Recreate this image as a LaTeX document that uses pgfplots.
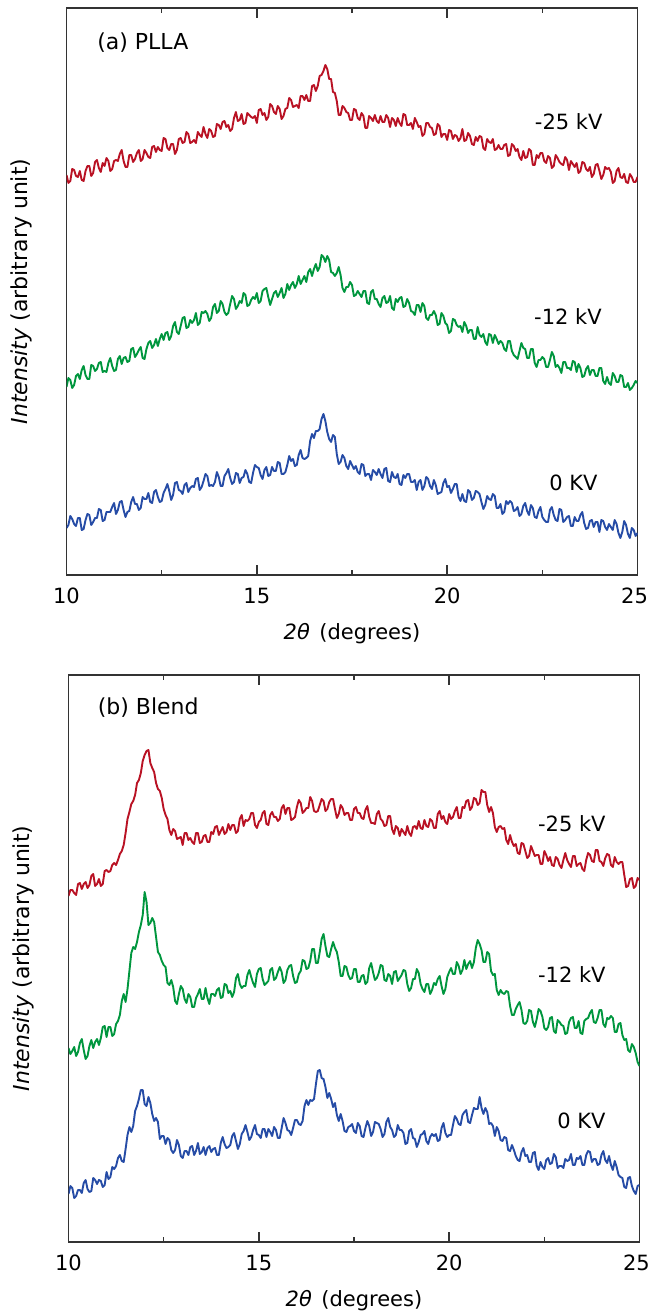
\documentclass[border=0pt]{standalone}
\usepackage{fontspec}
\setmainfont{DejaVu Sans}
\usepackage{pgfplots}
\pgfplotsset{compat=1.18}

\definecolor{redline}{RGB}{185,18,36}
\definecolor{greenline}{RGB}{0,150,62}
\definecolor{blueline}{RGB}{38,76,166}

\tikzset{annot/.style={inner sep=0pt, font=\fontsize{10.5}{12}\selectfont}}

% 1 px of the reference = 0.5pt; y values are pixels above the axis bottom
\pgfplotsset{xrdpanel/.style={
  width=285.5pt, height=283.5pt, scale only axis,
  xmin=10, xmax=25, ymin=0, ymax=567,
  xtick={10,15,20,25}, minor xtick={12.5,17.5,22.5},
  xticklabels={10,15,20,\hspace*{-3pt}25},
  ytick=\empty,
  tick align=inside,
  major tick length=5pt, minor tick length=2.5pt,
  axis line style={black!80, line width=0.7pt},
  every tick/.style={black!80, line width=0.7pt},
  tick label style={font=\fontsize{10.5}{12}\selectfont},
  /pgf/number format/assume math mode=true,
  xticklabel style={yshift=-3pt},
  xlabel={\textit{2θ}\hspace{0.45em}(degrees)},
  ylabel={\textit{Intensity} (arbitrary unit)},
  xlabel style={at={(axis description cs:0.5,-0.104)}, anchor=center,
    font=\fontsize{10.5}{12}\selectfont},
  ylabel style={at={(axis description cs:-0.079,0.5)}, anchor=center,
    font=\fontsize{11}{13}\selectfont},
  every axis plot/.append style={line width=0.95pt, line join=round},
}}

\begin{document}
\begin{tikzpicture}
% ---------------- (a) PLLA ----------------
\begin{axis}[xrdpanel]
  \addplot[redline] coordinates {
    (10.0,400)(10.05,392)(10.1,394)(10.15,406)(10.2,405)(10.25,399)(10.3,398)(10.35,404)(10.4,395)(10.45,394)
    (10.5,404)(10.55,409)(10.6,409)(10.65,399)(10.7,402)(10.75,413)(10.8,415)(10.85,407)(10.9,403)(10.95,412)
    (11.0,409)(11.05,417)(11.1,414)(11.15,404)(11.2,406)(11.25,414)(11.3,415)(11.35,414)(11.4,421)(11.45,425)
    (11.5,414)(11.55,408)(11.6,408)(11.65,420)(11.7,420)(11.75,413)(11.8,416)(11.85,422)(11.9,425)(11.95,414)
    (12.0,416)(12.05,425)(12.1,422)(12.15,418)(12.2,417)(12.25,428)(12.3,429)(12.35,423)(12.4,428)(12.45,425)
    (12.5,424)(12.55,437)(12.6,436)(12.65,427)(12.7,425)(12.75,431)(12.8,431)(12.85,421)(12.9,425)(12.95,436)
    (13.0,437)(13.05,432)(13.1,433)(13.15,443)(13.2,441)(13.25,432)(13.3,433)(13.35,435)(13.4,432)(13.45,443)
    (13.5,440)(13.55,438)(13.6,448)(13.65,441)(13.7,437)(13.75,446)(13.8,444)(13.85,438)(13.9,439)(13.95,451)
    (14.0,450)(14.05,446)(14.1,453)(14.15,454)(14.2,448)(14.25,450)(14.3,444)(14.35,446)(14.4,457)(14.45,463)
    (14.5,454)(14.55,455)(14.6,461)(14.65,451)(14.7,452)(14.75,462)(14.8,460)(14.85,458)(14.9,457)(14.95,459)
    (15.0,452)(15.05,465)(15.1,466)(15.15,460)(15.2,462)(15.25,455)(15.3,458)(15.35,471)(15.4,469)(15.45,463)
    (15.5,461)(15.55,469)(15.6,466)(15.65,456)(15.7,459)(15.75,466)(15.8,467)(15.85,477)(15.9,475)(15.95,468)
    (16.0,469)(16.05,470)(16.1,467)(16.15,479)(16.2,479)(16.25,475)(16.3,480)(16.35,474)(16.4,474)(16.45,489)
    (16.5,490)(16.55,484)(16.6,489)(16.65,499)(16.7,500)(16.75,504)(16.8,510)(16.85,506)(16.9,496)(16.95,496)
    (17.0,483)(17.05,482)(17.1,474)(17.15,460)(17.2,460)(17.25,469)(17.3,467)(17.35,463)(17.4,462)(17.45,455)
    (17.5,455)(17.55,466)(17.6,465)(17.65,457)(17.7,455)(17.75,462)(17.8,459)(17.85,447)(17.9,447)(17.95,459)
    (18.0,457)(18.05,454)(18.1,460)(18.15,454)(18.2,452)(18.25,459)(18.3,453)(18.35,453)(18.4,460)(18.45,457)
    (18.5,448)(18.55,457)(18.6,455)(18.65,449)(18.7,457)(18.75,452)(18.8,449)(18.85,461)(18.9,460)(18.95,450)
    (19.0,450)(19.05,452)(19.1,446)(19.15,457)(19.2,453)(19.25,448)(19.3,449)(19.35,439)(19.4,441)(19.45,452)
    (19.5,452)(19.55,448)(19.6,447)(19.65,440)(19.7,441)(19.75,451)(19.8,449)(19.85,438)(19.9,441)(19.95,441)
    (20.0,435)(20.05,445)(20.1,444)(20.15,436)(20.2,440)(20.25,439)(20.3,434)(20.35,437)(20.4,446)(20.45,434)
    (20.5,435)(20.55,442)(20.6,439)(20.65,431)(20.7,430)(20.75,438)(20.8,434)(20.85,439)(20.9,438)(20.95,427)
    (21.0,425)(21.05,436)(21.1,433)(21.15,432)(21.2,436)(21.25,425)(21.3,426)(21.35,430)(21.4,426)(21.45,426)
    (21.5,430)(21.55,431)(21.6,419)(21.65,420)(21.7,431)(21.75,429)(21.8,424)(21.85,426)(21.9,418)(21.95,415)
    (22.0,424)(22.05,417)(22.1,418)(22.15,426)(22.2,424)(22.25,410)(22.3,410)(22.35,420)(22.4,417)(22.45,422)
    (22.5,422)(22.55,414)(22.6,412)(22.65,419)(22.7,417)(22.75,407)(22.8,409)(22.85,420)(22.9,417)(22.95,413)
    (23.0,411)(23.05,410)(23.1,418)(23.15,415)(23.2,405)(23.25,414)(23.3,411)(23.35,408)(23.4,412)(23.45,402)
    (23.5,404)(23.55,413)(23.6,412)(23.65,406)(23.7,404)(23.75,408)(23.8,398)(23.85,401)(23.9,410)(23.95,411)
    (24.0,404)(24.05,396)(24.1,400)(24.15,408)(24.2,406)(24.25,407)(24.3,403)(24.35,392)(24.4,394)(24.45,404)
    (24.5,407)(24.55,398)(24.6,397)(24.65,401)(24.7,393)(24.75,392)(24.8,401)(24.85,398)(24.9,393)(24.95,393)
    (25.0,398)};
  \addplot[greenline] coordinates {
    (10.0,188)(10.05,197)(10.1,195)(10.15,187)(10.2,190)(10.25,199)(10.3,201)(10.35,196)(10.4,205)(10.45,209)
    (10.5,200)(10.55,196)(10.6,196)(10.65,210)(10.7,209)(10.75,204)(10.8,206)(10.85,212)(10.9,213)(10.95,203)
    (11.0,204)(11.05,203)(11.1,212)(11.15,217)(11.2,209)(11.25,204)(11.3,205)(11.35,216)(11.4,219)(11.45,211)
    (11.5,217)(11.55,218)(11.6,213)(11.65,214)(11.7,226)(11.75,227)(11.8,218)(11.85,221)(11.9,225)(11.95,228)
    (12.0,217)(12.05,216)(12.1,226)(12.15,232)(12.2,234)(12.25,227)(12.3,230)(12.35,236)(12.4,229)(12.45,236)
    (12.5,241)(12.55,235)(12.6,242)(12.65,243)(12.7,235)(12.75,239)(12.8,249)(12.85,253)(12.9,243)(12.95,241)
    (13.0,249)(13.05,257)(13.1,258)(13.15,247)(13.2,248)(13.25,255)(13.3,252)(13.35,255)(13.4,262)(13.45,250)
    (13.5,252)(13.55,263)(13.6,262)(13.65,264)(13.7,261)(13.75,254)(13.8,257)(13.85,268)(13.9,271)(13.95,262)
    (14.0,264)(14.05,274)(14.1,271)(14.15,263)(14.2,260)(14.25,262)(14.3,271)(14.35,279)(14.4,276)(14.45,266)
    (14.5,269)(14.55,274)(14.6,272)(14.65,282)(14.7,280)(14.75,269)(14.8,270)(14.85,275)(14.9,278)(14.95,276)
    (15.0,282)(15.05,272)(15.1,274)(15.15,284)(15.2,286)(15.25,287)(15.3,278)(15.35,270)(15.4,276)(15.45,282)
    (15.5,284)(15.55,278)(15.6,282)(15.65,287)(15.7,277)(15.75,281)(15.8,291)(15.85,285)(15.9,290)(15.95,293)
    (16.0,287)(16.05,291)(16.1,299)(16.15,291)(16.2,295)(16.25,299)(16.3,293)(16.35,303)(16.4,306)(16.45,299)
    (16.5,306)(16.55,311)(16.6,304)(16.65,308)(16.7,320)(16.75,318)(16.8,313)(16.85,319)(16.9,315)(16.95,303)
    (17.0,302)(17.05,299)(17.1,302)(17.15,308)(17.2,300)(17.25,287)(17.3,283)(17.35,288)(17.4,288)(17.45,293)
    (17.5,290)(17.55,279)(17.6,280)(17.65,284)(17.7,281)(17.75,278)(17.8,284)(17.85,284)(17.9,272)(17.95,271)
    (18.0,283)(18.05,285)(18.1,276)(18.15,276)(18.2,271)(18.25,268)(18.3,277)(18.35,279)(18.4,272)(18.45,273)
    (18.5,279)(18.55,267)(18.6,265)(18.65,276)(18.7,273)(18.75,277)(18.8,278)(18.85,268)(18.9,269)(18.95,276)
    (19.0,272)(19.05,264)(19.1,263)(19.15,260)(19.2,270)(19.25,270)(19.3,263)(19.35,272)(19.4,269)(19.45,257)
    (19.5,255)(19.55,260)(19.6,260)(19.65,264)(19.7,260)(19.75,250)(19.8,251)(19.85,262)(19.9,259)(19.95,252)
    (20.0,250)(20.05,242)(20.1,244)(20.15,256)(20.2,255)(20.25,250)(20.3,248)(20.35,249)(20.4,243)(20.45,253)
    (20.5,249)(20.55,242)(20.6,245)(20.65,245)(20.7,236)(20.75,236)(20.8,248)(20.85,240)(20.9,238)(20.95,241)
    (21.0,233)(21.05,230)(21.1,241)(21.15,240)(21.2,232)(21.25,240)(21.3,236)(21.35,231)(21.4,234)(21.45,232)
    (21.5,226)(21.55,224)(21.6,234)(21.65,234)(21.7,224)(21.75,220)(21.8,218)(21.85,216)(21.9,224)(21.95,232)
    (22.0,227)(22.05,226)(22.1,217)(22.15,217)(22.2,226)(22.25,226)(22.3,212)(22.35,208)(22.4,215)(22.45,215)
    (22.5,218)(22.55,216)(22.6,208)(22.65,208)(22.7,215)(22.75,223)(22.8,219)(22.85,208)(22.9,210)(22.95,207)
    (23.0,202)(23.05,213)(23.1,213)(23.15,207)(23.2,207)(23.25,205)(23.3,214)(23.35,213)(23.4,203)(23.45,211)
    (23.5,207)(23.55,198)(23.6,199)(23.65,206)(23.7,209)(23.75,200)(23.8,205)(23.85,205)(23.9,199)(23.95,199)
    (24.0,207)(24.05,207)(24.1,194)(24.15,191)(24.2,198)(24.25,192)(24.3,190)(24.35,202)(24.4,199)(24.45,193)
    (24.5,193)(24.55,200)(24.6,199)(24.65,188)(24.7,188)(24.75,192)(24.8,185)(24.85,187)(24.9,190)(24.95,194)
    (25.0,192)};
  \addplot[blueline] coordinates {
    (10.0,47)(10.05,50)(10.1,59)(10.15,56)(10.2,51)(10.25,49)(10.3,57)(10.35,57)(10.4,45)(10.45,46)
    (10.5,55)(10.55,61)(10.6,60)(10.65,50)(10.7,53)(10.75,57)(10.8,57)(10.85,66)(10.9,65)(10.95,54)
    (11.0,55)(11.05,63)(11.1,63)(11.15,63)(11.2,68)(11.25,72)(11.3,61)(11.35,65)(11.4,73)(11.45,74)
    (11.5,65)(11.55,58)(11.6,63)(11.65,64)(11.7,73)(11.75,78)(11.8,71)(11.85,71)(11.9,65)(11.95,67)
    (12.0,78)(12.05,76)(12.1,76)(12.15,82)(12.2,73)(12.25,72)(12.3,83)(12.35,85)(12.4,78)(12.45,73)
    (12.5,74)(12.55,82)(12.6,86)(12.65,91)(12.7,84)(12.75,75)(12.8,80)(12.85,92)(12.9,93)(12.95,85)
    (13.0,84)(13.05,81)(13.1,90)(13.15,92)(13.2,83)(13.25,87)(13.3,89)(13.35,88)(13.4,96)(13.45,97)
    (13.5,85)(13.55,88)(13.6,94)(13.65,101)(13.7,99)(13.75,89)(13.8,90)(13.85,89)(13.9,93)(13.95,103)
    (14.0,98)(14.05,89)(14.1,89)(14.15,99)(14.2,102)(14.25,106)(14.3,97)(14.35,91)(14.4,93)(14.45,102)
    (14.5,101)(14.55,92)(14.6,97)(14.65,98)(14.7,105)(14.75,101)(14.8,93)(14.85,92)(14.9,102)(14.95,110)
    (15.0,108)(15.05,107)(15.1,100)(15.15,96)(15.2,105)(15.25,108)(15.3,99)(15.35,100)(15.4,108)(15.45,104)
    (15.5,104)(15.55,113)(15.6,112)(15.65,101)(15.7,101)(15.75,103)(15.8,110)(15.85,119)(15.9,114)(15.95,116)
    (16.0,109)(16.05,110)(16.1,120)(16.15,125)(16.2,117)(16.25,116)(16.3,117)(16.35,119)(16.4,134)(16.45,141)
    (16.5,137)(16.55,144)(16.6,144)(16.65,146)(16.7,156)(16.75,161)(16.8,154)(16.85,143)(16.9,136)(16.95,133)
    (17.0,140)(17.05,138)(17.1,121)(17.15,111)(17.2,113)(17.25,120)(17.3,117)(17.35,109)(17.4,106)(17.45,114)
    (17.5,110)(17.55,106)(17.6,109)(17.65,103)(17.7,101)(17.75,111)(17.8,110)(17.85,99)(17.9,101)(17.95,101)
    (18.0,95)(18.05,105)(18.1,103)(18.15,100)(18.2,106)(18.25,101)(18.3,97)(18.35,106)(18.4,107)(18.45,94)
    (18.5,93)(18.55,103)(18.6,98)(18.65,97)(18.7,101)(18.75,91)(18.8,90)(18.85,100)(18.9,97)(18.95,101)
    (19.0,101)(19.05,93)(19.1,93)(19.15,95)(19.2,85)(19.25,93)(19.3,95)(19.35,85)(19.4,89)(19.45,98)
    (19.5,96)(19.55,89)(19.6,86)(19.65,95)(19.7,90)(19.75,81)(19.8,82)(19.85,83)(19.9,92)(19.95,96)
    (20.0,88)(20.05,89)(20.1,82)(20.15,86)(20.2,91)(20.25,91)(20.3,78)(20.35,74)(20.4,81)(20.45,74)
    (20.5,73)(20.55,85)(20.6,83)(20.65,75)(20.7,77)(20.75,84)(20.8,83)(20.85,81)(20.9,73)(20.95,66)
    (21.0,70)(21.05,79)(21.1,76)(21.15,75)(21.2,81)(21.25,79)(21.3,67)(21.35,67)(21.4,71)(21.45,61)
    (21.5,63)(21.55,74)(21.6,71)(21.65,74)(21.7,72)(21.75,64)(21.8,65)(21.85,68)(21.9,59)(21.95,61)
    (22.0,69)(22.05,72)(22.1,64)(22.15,60)(22.2,70)(22.25,67)(22.3,58)(22.35,57)(22.4,64)(22.45,68)
    (22.5,58)(22.55,55)(22.6,53)(22.65,53)(22.7,65)(22.75,68)(22.8,60)(22.85,55)(22.9,54)(22.95,66)
    (23.0,65)(23.05,53)(23.1,55)(23.15,58)(23.2,59)(23.25,49)(23.3,49)(23.35,58)(23.4,54)(23.45,54)
    (23.5,60)(23.55,63)(23.6,52)(23.65,46)(23.7,47)(23.75,54)(23.8,55)(23.85,48)(23.9,53)(23.95,53)
    (24.0,43)(24.05,55)(24.1,54)(24.15,48)(24.2,45)(24.25,51)(24.3,48)(24.35,45)(24.4,55)(24.45,51)
    (24.5,42)(24.55,37)(24.6,43)(24.65,54)(24.7,50)(24.75,41)(24.8,37)(24.85,47)(24.9,45)(24.95,39)
    (25.0,42)};
  \node[annot, anchor=west, font=\fontsize{11}{13}\selectfont] at (axis cs:10.80,532) {(a) PLLA};
  \node[annot, anchor=east] at (axis cs:24.09,453) {-25 kV};
  \node[annot, anchor=east] at (axis cs:24.07,258) {-12 kV};
  \node[annot, anchor=east] at (axis cs:23.96,92) {0 KV};
\end{axis}

% ---------------- (b) Blend ----------------
\begin{axis}[xrdpanel, at={(1pt,-333.5pt)}]
  \addplot[redline] coordinates {
    (10.0,346)(10.05,352)(10.1,352)(10.15,349)(10.2,347)(10.25,358)(10.3,359)(10.35,353)(10.4,358)(10.45,360)
    (10.5,354)(10.55,357)(10.6,366)(10.65,368)(10.7,356)(10.75,358)(10.8,363)(10.85,356)(10.9,358)(10.95,371)
    (11.0,372)(11.05,370)(11.1,371)(11.15,377)(11.2,379)(11.25,377)(11.3,382)(11.35,388)(11.4,391)(11.45,397)
    (11.5,409)(11.55,423)(11.6,430)(11.65,438)(11.7,441)(11.75,447)(11.8,459)(11.85,462)(11.9,469)(11.95,481)
    (12.0,487)(12.05,491)(12.1,492)(12.15,479)(12.2,474)(12.25,470)(12.3,459)(12.35,453)(12.4,451)(12.45,444)
    (12.5,433)(12.55,427)(12.6,423)(12.65,412)(12.7,407)(12.75,413)(12.8,411)(12.85,403)(12.9,404)(12.95,405)
    (13.0,397)(13.05,409)(13.1,409)(13.15,402)(13.2,404)(13.25,400)(13.3,398)(13.35,409)(13.4,409)(13.45,399)
    (13.5,400)(13.55,406)(13.6,407)(13.65,400)(13.7,400)(13.75,410)(13.8,408)(13.85,415)(13.9,416)(13.95,407)
    (14.0,411)(14.05,415)(14.1,408)(14.15,410)(14.2,418)(14.25,412)(14.3,417)(14.35,417)(14.4,409)(14.45,411)
    (14.5,423)(14.55,427)(14.6,416)(14.65,422)(14.7,421)(14.75,423)(14.8,429)(14.85,429)(14.9,417)(14.95,414)
    (15.0,420)(15.05,422)(15.1,429)(15.15,431)(15.2,418)(15.25,417)(15.3,427)(15.35,430)(15.4,425)(15.45,425)
    (15.5,421)(15.55,423)(15.6,434)(15.65,437)(15.7,428)(15.75,434)(15.8,434)(15.85,422)(15.9,423)(15.95,425)
    (16.0,435)(16.05,442)(16.1,439)(16.15,429)(16.2,431)(16.25,434)(16.3,434)(16.35,445)(16.4,441)(16.45,431)
    (16.5,430)(16.55,431)(16.6,437)(16.65,443)(16.7,441)(16.75,431)(16.8,433)(16.85,440)(16.9,443)(16.95,443)
    (17.0,433)(17.05,424)(17.1,428)(17.15,437)(17.2,434)(17.25,427)(17.3,429)(17.35,429)(17.4,422)(17.45,422)
    (17.5,433)(17.55,435)(17.6,429)(17.65,429)(17.7,424)(17.75,423)(17.8,432)(17.85,436)(17.9,425)(17.95,419)
    (18.0,419)(18.05,418)(18.1,428)(18.15,431)(18.2,423)(18.25,421)(18.3,416)(18.35,417)(18.4,426)(18.45,426)
    (18.5,413)(18.55,408)(18.6,416)(18.65,414)(18.7,406)(18.75,413)(18.8,410)(18.85,407)(18.9,416)(18.95,409)
    (19.0,406)(19.05,415)(19.1,416)(19.15,413)(19.2,421)(19.25,414)(19.3,413)(19.35,422)(19.4,416)(19.45,415)
    (19.5,423)(19.55,421)(19.6,414)(19.65,414)(19.7,428)(19.75,431)(19.8,423)(19.85,426)(19.9,420)(19.95,418)
    (20.0,428)(20.05,423)(20.1,425)(20.15,431)(20.2,435)(20.25,424)(20.3,424)(20.35,435)(20.4,434)(20.45,441)
    (20.5,442)(20.55,432)(20.6,435)(20.65,444)(20.7,443)(20.75,437)(20.8,439)(20.85,452)(20.9,450)(20.95,450)
    (21.0,437)(21.05,430)(21.1,435)(21.15,429)(21.2,415)(21.25,410)(21.3,415)(21.35,416)(21.4,413)(21.45,414)
    (21.5,402)(21.55,398)(21.6,407)(21.65,400)(21.7,396)(21.75,398)(21.8,389)(21.85,388)(21.9,399)(21.95,398)
    (22.0,391)(22.05,384)(22.1,386)(22.15,396)(22.2,391)(22.25,386)(22.3,387)(22.35,387)(22.4,378)(22.45,378)
    (22.5,391)(22.55,387)(22.6,381)(22.65,385)(22.7,377)(22.75,376)(22.8,385)(22.85,383)(22.9,377)(22.95,374)
    (23.0,382)(23.05,389)(23.1,382)(23.15,378)(23.2,375)(23.25,386)(23.3,386)(23.35,376)(23.4,378)(23.45,379)
    (23.5,373)(23.55,371)(23.6,382)(23.65,389)(23.7,387)(23.75,381)(23.8,380)(23.85,392)(23.9,392)(23.95,381)
    (24.0,380)(24.05,376)(24.1,384)(24.15,388)(24.2,387)(24.25,377)(24.3,375)(24.35,385)(24.4,380)(24.45,378)
    (24.5,380)(24.55,380)(24.6,367)(24.65,355)(24.7,356)(24.75,363)(24.8,364)(24.85,354)(24.9,356)(24.95,364)
    (25.0,362)};
  \addplot[greenline] coordinates {
    (10.0,194)(10.05,188)(10.1,191)(10.15,195)(10.2,186)(10.25,190)(10.3,199)(10.35,203)(10.4,192)(10.45,183)
    (10.5,186)(10.55,196)(10.6,202)(10.65,194)(10.7,200)(10.75,203)(10.8,197)(10.85,204)(10.9,215)(10.95,216)
    (11.0,205)(11.05,215)(11.1,215)(11.15,206)(11.2,208)(11.25,218)(11.3,221)(11.35,227)(11.4,241)(11.45,248)
    (11.5,240)(11.55,253)(11.6,271)(11.65,289)(11.7,295)(11.75,293)(11.8,300)(11.85,310)(11.9,317)(11.95,327)
    (12.0,350)(12.05,340)(12.1,317)(12.15,319)(12.2,324)(12.25,320)(12.3,305)(12.35,290)(12.4,287)(12.45,281)
    (12.5,277)(12.55,275)(12.6,259)(12.65,257)(12.7,262)(12.75,255)(12.8,241)(12.85,238)(12.9,248)(12.95,256)
    (13.0,253)(13.05,243)(13.1,239)(13.15,248)(13.2,245)(13.25,235)(13.3,235)(13.35,244)(13.4,248)(13.45,253)
    (13.5,243)(13.55,243)(13.6,254)(13.65,244)(13.7,238)(13.75,248)(13.8,248)(13.85,246)(13.9,252)(13.95,254)
    (14.0,244)(14.05,245)(14.1,258)(14.15,257)(14.2,249)(14.25,251)(14.3,245)(14.35,250)(14.4,264)(14.45,268)
    (14.5,258)(14.55,254)(14.6,256)(14.65,256)(14.7,267)(14.75,272)(14.8,265)(14.85,259)(14.9,255)(14.95,268)
    (15.0,273)(15.05,274)(15.1,263)(15.15,257)(15.2,259)(15.25,261)(15.3,272)(15.35,274)(15.4,262)(15.45,264)
    (15.5,270)(15.55,275)(15.6,270)(15.65,259)(15.7,262)(15.75,272)(15.8,276)(15.85,277)(15.9,266)(15.95,259)
    (16.0,260)(16.05,268)(16.1,271)(16.15,282)(16.2,281)(16.25,273)(16.3,274)(16.35,281)(16.4,293)(16.45,293)
    (16.5,279)(16.55,279)(16.6,290)(16.65,303)(16.7,308)(16.75,296)(16.8,286)(16.85,285)(16.9,293)(16.95,300)
    (17.0,294)(17.05,290)(17.1,280)(17.15,266)(17.2,266)(17.25,276)(17.3,275)(17.35,267)(17.4,263)(17.45,264)
    (17.5,273)(17.55,273)(17.6,260)(17.65,260)(17.7,266)(17.75,267)(17.8,258)(17.85,260)(17.9,274)(17.95,279)
    (18.0,270)(18.05,262)(18.1,264)(18.15,269)(18.2,277)(18.25,276)(18.3,262)(18.35,261)(18.4,268)(18.45,266)
    (18.5,258)(18.55,270)(18.6,271)(18.65,261)(18.7,264)(18.75,267)(18.8,272)(18.85,271)(18.9,258)(18.95,251)
    (19.0,254)(19.05,263)(19.1,263)(19.15,273)(19.2,269)(19.25,258)(19.3,253)(19.35,250)(19.4,258)(19.45,258)
    (19.5,248)(19.55,252)(19.6,259)(19.65,257)(19.7,263)(19.75,266)(19.8,256)(19.85,248)(19.9,253)(19.95,265)
    (20.0,270)(20.05,274)(20.1,268)(20.15,268)(20.2,280)(20.25,276)(20.3,268)(20.35,272)(20.4,282)(20.45,273)
    (20.5,278)(20.55,281)(20.6,274)(20.65,280)(20.7,294)(20.75,302)(20.8,298)(20.85,292)(20.9,280)(20.95,280)
    (21.0,290)(21.05,288)(21.1,271)(21.15,267)(21.2,268)(21.25,252)(21.3,247)(21.35,252)(21.4,249)(21.45,248)
    (21.5,251)(21.55,250)(21.6,236)(21.65,227)(21.7,227)(21.75,233)(21.8,237)(21.85,240)(21.9,232)(21.95,219)
    (22.0,218)(22.05,221)(22.1,232)(22.15,231)(22.2,220)(22.25,215)(22.3,223)(22.35,233)(22.4,231)(22.45,225)
    (22.5,214)(22.55,212)(22.6,215)(22.65,224)(22.7,225)(22.75,211)(22.8,209)(22.85,222)(22.9,220)(22.95,217)
    (23.0,216)(23.05,208)(23.1,209)(23.15,220)(23.2,224)(23.25,225)(23.3,214)(23.35,214)(23.4,221)(23.45,209)
    (23.5,208)(23.55,221)(23.6,223)(23.65,224)(23.7,229)(23.75,232)(23.8,220)(23.85,219)(23.9,224)(23.95,232)
    (24.0,232)(24.05,218)(24.1,215)(24.15,224)(24.2,223)(24.25,226)(24.3,224)(24.35,210)(24.4,210)(24.45,218)
    (24.5,219)(24.55,207)(24.6,202)(24.65,203)(24.7,192)(24.75,190)(24.8,198)(24.85,195)(24.9,189)(24.95,180)
    (25.0,176)};
  \addplot[blueline] coordinates {
    (10.0,48)(10.05,56)(10.1,54)(10.15,44)(10.2,46)(10.25,52)(10.3,52)(10.35,49)(10.4,59)(10.45,62)
    (10.5,53)(10.55,50)(10.6,51)(10.65,64)(10.7,62)(10.75,58)(10.8,62)(10.85,61)(10.9,55)(10.95,57)
    (11.0,70)(11.05,63)(11.1,65)(11.15,75)(11.2,73)(11.25,76)(11.3,84)(11.35,87)(11.4,81)(11.45,80)
    (11.5,93)(11.55,107)(11.6,115)(11.65,110)(11.7,116)(11.75,131)(11.8,136)(11.85,143)(11.9,152)(11.95,152)
    (12.0,138)(12.05,136)(12.1,145)(12.15,139)(12.2,128)(12.25,121)(12.3,124)(12.35,120)(12.4,103)(12.45,106)
    (12.5,106)(12.55,98)(12.6,104)(12.65,102)(12.7,92)(12.75,89)(12.8,92)(12.85,102)(12.9,97)(12.95,86)
    (13.0,84)(13.05,91)(13.1,91)(13.15,87)(13.2,95)(13.25,96)(13.3,87)(13.35,91)(13.4,99)(13.45,88)
    (13.5,90)(13.55,95)(13.6,87)(13.65,94)(13.7,96)(13.75,90)(13.8,93)(13.85,94)(13.9,87)(13.95,87)
    (14.0,99)(14.05,105)(14.1,98)(14.15,94)(14.2,95)(14.25,97)(14.3,106)(14.35,109)(14.4,101)(14.45,93)
    (14.5,98)(14.55,108)(14.6,111)(14.65,117)(14.7,110)(14.75,102)(14.8,105)(14.85,112)(14.9,117)(14.95,108)
    (15.0,107)(15.05,104)(15.1,113)(15.15,113)(15.2,105)(15.25,113)(15.3,110)(15.35,106)(15.4,115)(15.45,112)
    (15.5,104)(15.55,104)(15.6,114)(15.65,124)(15.7,119)(15.75,112)(15.8,111)(15.85,107)(15.9,114)(15.95,122)
    (16.0,122)(16.05,118)(16.1,117)(16.15,121)(16.2,136)(16.25,142)(16.3,137)(16.35,142)(16.4,141)(16.45,143)
    (16.5,158)(16.55,171)(16.6,172)(16.65,164)(16.7,163)(16.75,155)(16.8,144)(16.85,149)(16.9,143)(16.95,135)
    (17.0,139)(17.05,127)(17.1,121)(17.15,128)(17.2,121)(17.25,111)(17.3,110)(17.35,115)(17.4,116)(17.45,118)
    (17.5,111)(17.55,109)(17.6,119)(17.65,116)(17.7,106)(17.75,105)(17.8,114)(17.85,121)(17.9,116)(17.95,106)
    (18.0,110)(18.05,120)(18.1,119)(18.15,118)(18.2,113)(18.25,105)(18.3,108)(18.35,120)(18.4,124)(18.45,115)
    (18.5,112)(18.55,105)(18.6,107)(18.65,117)(18.7,112)(18.75,112)(18.8,109)(18.85,98)(18.9,99)(18.95,111)
    (19.0,113)(19.05,104)(19.1,103)(19.15,95)(19.2,100)(19.25,107)(19.3,108)(19.35,111)(19.4,101)(19.45,98)
    (19.5,105)(19.55,108)(19.6,106)(19.65,108)(19.7,101)(19.75,102)(19.8,114)(19.85,119)(19.9,109)(19.95,105)
    (20.0,107)(20.05,107)(20.1,117)(20.15,126)(20.2,123)(20.25,118)(20.3,117)(20.35,127)(20.4,130)(20.45,132)
    (20.5,120)(20.55,119)(20.6,127)(20.65,134)(20.7,133)(20.75,133)(20.8,145)(20.85,134)(20.9,128)(20.95,134)
    (21.0,130)(21.05,118)(21.1,119)(21.15,116)(21.2,106)(21.25,115)(21.3,111)(21.35,102)(21.4,101)(21.45,105)
    (21.5,104)(21.55,92)(21.6,91)(21.65,97)(21.7,92)(21.75,86)(21.8,82)(21.85,81)(21.9,90)(21.95,94)
    (22.0,86)(22.05,87)(22.1,80)(22.15,80)(22.2,89)(22.25,90)(22.3,76)(22.35,72)(22.4,80)(22.45,75)
    (22.5,73)(22.55,82)(22.6,84)(22.65,78)(22.7,79)(22.75,88)(22.8,85)(22.85,74)(22.9,76)(22.95,76)
    (23.0,74)(23.05,83)(23.1,81)(23.15,82)(23.2,88)(23.25,77)(23.3,77)(23.35,84)(23.4,83)(23.45,86)
    (23.5,77)(23.55,77)(23.6,87)(23.65,91)(23.7,90)(23.75,80)(23.8,83)(23.85,83)(23.9,77)(23.95,78)
    (24.0,87)(24.05,91)(24.1,82)(24.15,79)(24.2,86)(24.25,77)(24.3,72)(24.35,81)(24.4,75)(24.45,67)
    (24.5,65)(24.55,64)(24.6,55)(24.65,54)(24.7,64)(24.75,65)(24.8,56)(24.85,51)(24.9,48)(24.95,56)
    (25.0,57)};
  \node[annot, anchor=west, font=\fontsize{11}{13}\selectfont] at (axis cs:10.76,534) {(b) Blend};
  \node[annot, anchor=east] at (axis cs:24.12,418) {-25 kV};
  \node[annot, anchor=east] at (axis cs:24.12,267) {-12 kV};
  \node[annot, anchor=east] at (axis cs:24.12,121) {0 KV};
\end{axis}

\pgfresetboundingbox
\path[use as bounding box] (-33.25pt,-370.5pt) rectangle (290.75pt,287.5pt);
\end{tikzpicture}
\end{document}
